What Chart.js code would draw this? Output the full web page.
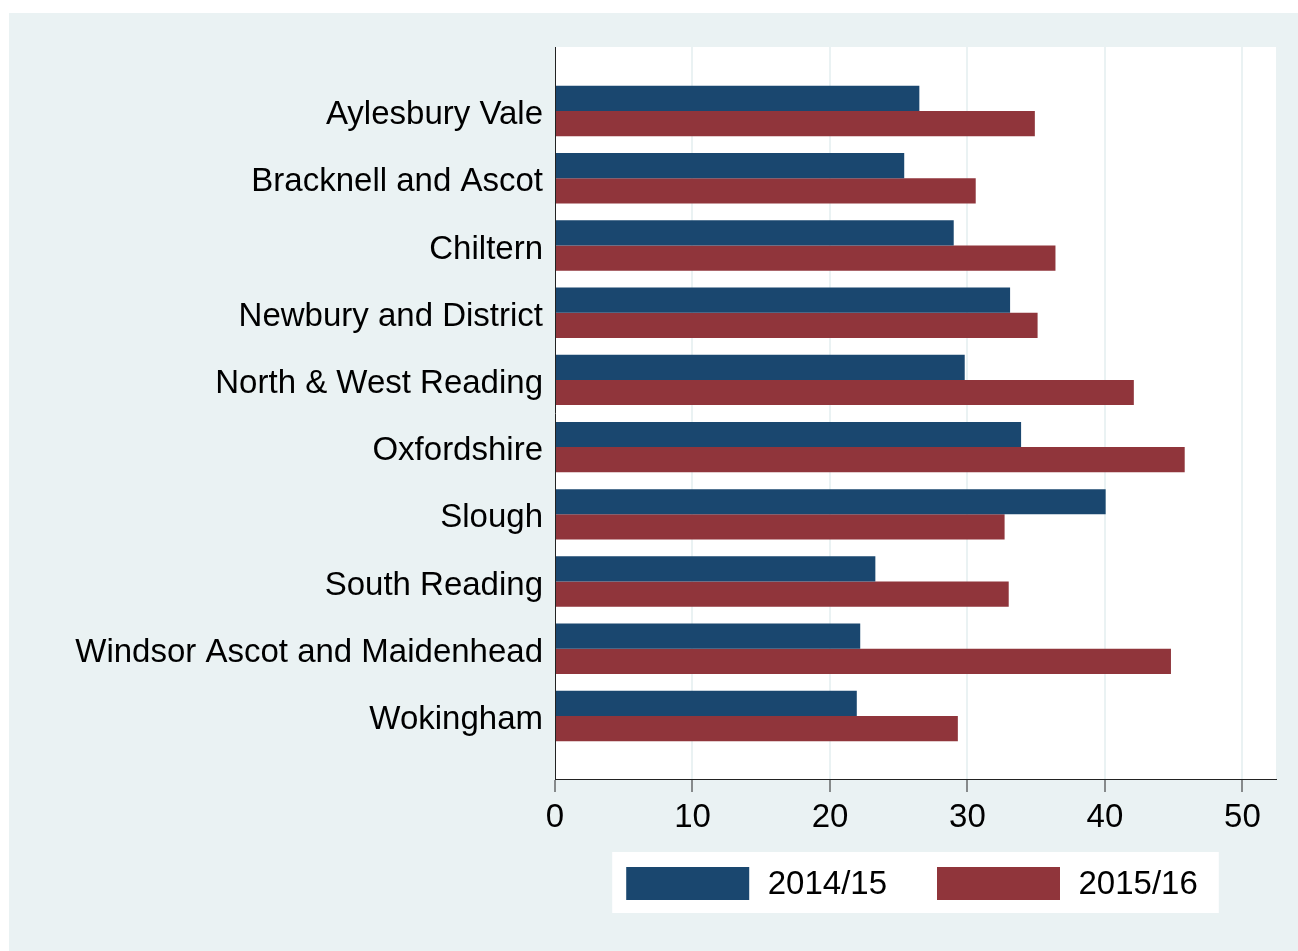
<!DOCTYPE html>
<html>
<head>
<meta charset="utf-8">
<script src="https://cdn.jsdelivr.net/npm/chart.js@4"></script>
<style>
  html, body { margin: 0; padding: 0; background: #fff; }
  canvas { display: block; }
</style>
</head>
<body>
<canvas id="chart" width="1298" height="951"></canvas>
<script>
var categories = ['Aylesbury Vale', 'Bracknell and Ascot', 'Chiltern', 'Newbury and District',
    'North & West Reading', 'Oxfordshire', 'Slough', 'South Reading',
    'Windsor Ascot and Maidenhead', 'Wokingham'];
var values1415 = [26.5, 25.4, 29.0, 33.1, 29.8, 33.9, 40.05, 23.3, 22.2, 21.95];
var values1516 = [34.9, 30.6, 36.4, 35.1, 42.1, 45.8, 32.7, 33.0, 44.8, 29.3];
var xTicks = [0, 10, 20, 30, 40, 50];
var seriesLabels = ['2014/15', '2015/16'];

var bg = '#EAF2F3';
var fontFamily = '"Liberation Sans", Arial, sans-serif';
var fontSize = 33;

// Stata-like background: grey graph region, white plot region
var backgroundPlugin = {
    id: 'stataBackground',
    beforeDraw(chart) {
        const ctx = chart.ctx;
        const area = chart.chartArea;
        ctx.save();
        ctx.fillStyle = '#fff';
        ctx.fillRect(0, 0, chart.width, chart.height);
        ctx.fillStyle = bg;
        ctx.fillRect(9, 13, chart.width - 9, chart.height - 13);
        ctx.fillStyle = '#fff';
        ctx.fillRect(area.left, area.top, area.right - area.left, area.bottom - area.top);
        ctx.restore();
    }
};

// legend in a white box, centred under the plot region
var legendPlugin = {
    id: 'stataLegend',
    afterDraw(chart) {
        const ctx = chart.ctx;
        const area = chart.chartArea;
        const boxW = 123, boxH = 33, gap = 50, textGap = 18.5;
        const padL = 14, padR = 21;
        ctx.save();
        ctx.font = fontSize + 'px ' + fontFamily;
        const items = chart.data.datasets.map(ds => ({
            text: ds.label,
            color: ds.backgroundColor,
            width: boxW + textGap + ctx.measureText(ds.label).width
        }));
        const total = items.reduce((s, it) => s + it.width, 0) + gap * (items.length - 1);
        const boxWidth = total + padL + padR;
        const boxLeft = (area.left + area.right) / 2 - boxWidth / 2;
        const top = area.bottom + 88;

        ctx.fillStyle = '#fff';
        ctx.fillRect(boxLeft, top - 15, boxWidth, boxH + 28);

        ctx.textBaseline = 'middle';
        ctx.textAlign = 'left';
        let x = boxLeft + padL;
        items.forEach(it => {
            ctx.fillStyle = it.color;
            ctx.fillRect(x, top, boxW, boxH);
            ctx.fillStyle = '#000';
            ctx.fillText(it.text, x + boxW + textGap, top + boxH / 2 + 1);
            x += it.width + gap;
        });
        ctx.restore();
    }
};

const ctx = document.getElementById('chart');
new Chart(ctx, {
    type: 'bar',
    data: {
        datasets: [{
            label: seriesLabels[0],
            data: categories.map((c, i) => ({ x: values1415[i], y: i })),
            backgroundColor: '#1A476F',
            borderWidth: 0
        }, {
            label: seriesLabels[1],
            data: categories.map((c, i) => ({ x: values1516[i], y: i })),
            backgroundColor: '#90353B',
            borderWidth: 0
        }]
    },
    options: {
        indexAxis: 'y',
        responsive: false,
        devicePixelRatio: 1,
        animation: false,
        categoryPercentage: 0.75,
        barPercentage: 1.0,
        layout: { padding: { top: 47, right: 22, left: 0, bottom: 92 } },
        plugins: {
            tooltip: { enabled: false },
            legend: { display: false }
        },
        scales: {
            x: {
                type: 'linear',
                min: 0,
                max: 52.44,
                afterBuildTicks: scale => { scale.ticks = xTicks.map(v => ({ value: v })); },
                afterFit: scale => { scale.height = 80; },
                grid: {
                    color: ctx => ctx.tick && ctx.tick.value === 0 ? 'rgba(0,0,0,0)' : bg,
                    lineWidth: 2,
                    tickColor: '#222',
                    tickLength: 13,
                    tickWidth: 1
                },
                border: { display: true, color: '#222', width: 1 },
                ticks: {
                    color: '#000',
                    padding: 6,
                    font: { family: fontFamily, size: fontSize }
                }
            },
            y: {
                type: 'linear',
                reverse: true,
                offset: false,
                min: -0.952,
                max: 9.937,
                afterBuildTicks: scale => { scale.ticks = categories.map((c, i) => ({ value: i })); },
                afterFit: scale => { scale.width = 555; },
                grid: { display: false },
                border: { display: true, color: '#222', width: 1 },
                ticks: {
                    color: '#000',
                    padding: 4,
                    labelOffset: 4,
                    autoSkip: false,
                    font: { family: fontFamily, size: fontSize },
                    callback: value => categories[value]
                }
            }
        }
    },
    plugins: [backgroundPlugin, legendPlugin]
});
</script>
</body>
</html>
